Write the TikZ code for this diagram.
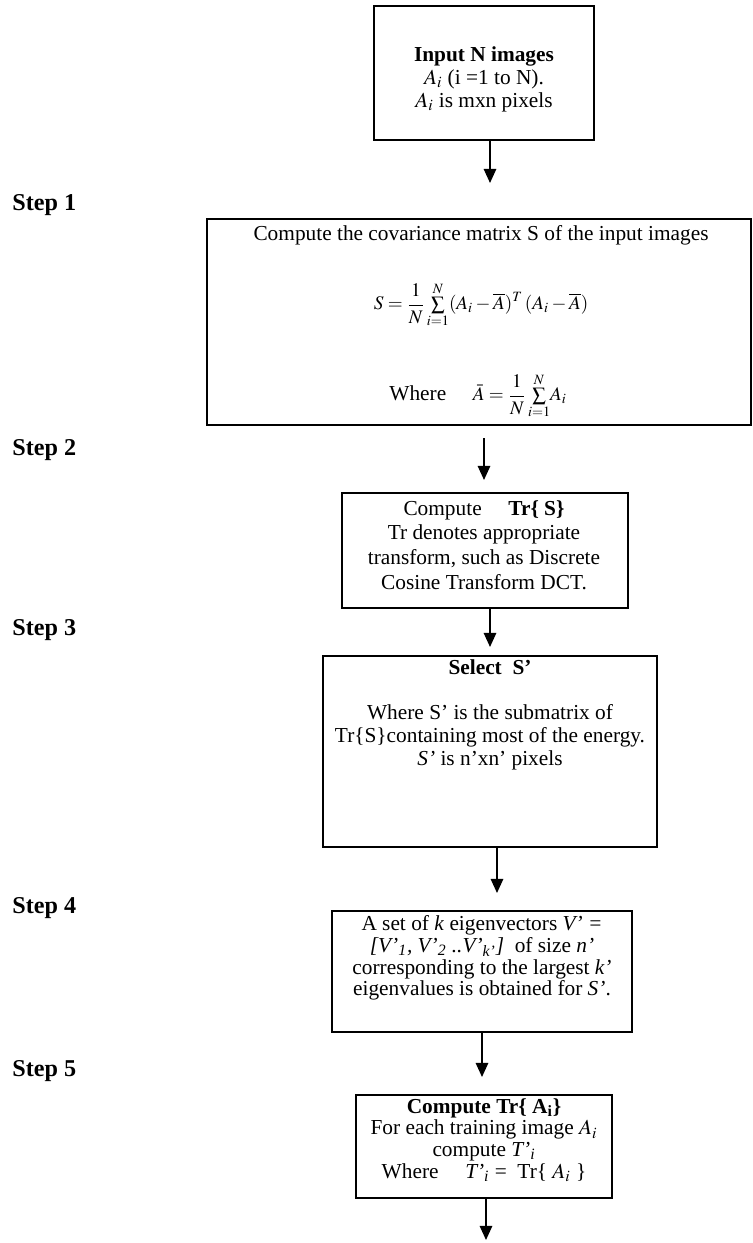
\documentclass[tikz,border=0pt]{standalone}
\usepackage{mathptmx}
\usepackage{fontspec}
\setmainfont{Liberation Serif}
\usetikzlibrary{arrows.meta}
\begin{document}
\begin{tikzpicture}[x=0.6pt,y=-0.6pt,
  box/.style={draw,line width=1.2pt,inner sep=0pt,outer sep=0pt},
  txt/.style={align=center,inner sep=0pt,font=\fontsize{12.8}{13.8}\selectfont},
  tight/.style={font=\fontsize{12.8}{13}\selectfont},
  loose/.style={font=\fontsize{12.8}{14.8}\selectfont},
  mathtxt/.style={font=\fontsize{11.5}{12}\selectfont},
  steplabel/.style={anchor=west,inner sep=0pt,font=\fontsize{14.5}{16}\selectfont\bfseries},
  arr/.style={line width=1pt,-{Triangle[length=8.5pt,width=7.5pt]}}]
\useasboundingbox (0,0) rectangle (752,1243);
% boxes
\node[box,minimum width=220*0.6pt,minimum height=134*0.6pt] (b1) at (484,73) {};
\node[box,minimum width=544*0.6pt,minimum height=206*0.6pt] (b2) at (479,322) {};
\node[box,minimum width=286*0.6pt,minimum height=115*0.6pt] (b3) at (485,550.5) {};
\node[box,minimum width=334*0.6pt,minimum height=191*0.6pt] (b4) at (490,751.5) {};
\node[box,minimum width=300*0.6pt,minimum height=121*0.6pt] (b5) at (482,971.5) {};
\node[box,minimum width=256*0.6pt,minimum height=103*0.6pt] (b6) at (484,1146.5) {};
% texts
\node[txt] (t1) at (484,79) {\textbf{Input N images}\\ $A_i$ (i =1 to N).\\ $A_i$ is mxn pixels};
\node[txt] (t2a) at (481,235) {Compute the covariance matrix S of the input images};
\node[txt,mathtxt] (t2b) at (481,305) {$\displaystyle S=\frac{1}{N}\,{\textstyle\sum\limits_{i=1}^{N}}(A_i-\overline{A})^T\,(A_i-\overline{A})$};
\node[txt] (t2c) at (478,396) {Where \quad {\fontsize{11.5}{12}\selectfont$\displaystyle\bar{A}=\frac{1}{N}\,{\textstyle\sum\limits_{i=1}^{N}}A_i$}};
\node[txt,loose] (t3) at (484,545) {Compute \quad \textbf{Tr\{ S\}}\\ Tr denotes appropriate\\ transform, such as Discrete\\ Cosine Transform DCT.};
\node[txt] (t4a) at (490,667) {\textbf{Select\ \ S’}};
\node[txt] (t4b) at (490,737) {Where S’ is the submatrix of\\ Tr\{S\}containing most of the energy.\\ \textit{S’} is n’xn’ pixels};
\node[txt,tight] (t5) at (482,958) {A set of \textit{k} eigenvectors \textit{V’ =}\\ \textit{[V’\textsubscript{1}, V’\textsubscript{2} ..V’\textsubscript{k’}]}\ \ of size \textit{n’}\\ corresponding to the largest \textit{k’}\\ eigenvalues is obtained for \textit{S’}.};
\node[txt,tight] (t6) at (484,1140) {\textbf{Compute Tr\{ A\textsubscript{i}\}}\\ For each training image $A_i$\\ compute \textit{T’\textsubscript{i}}\\ Where \quad \textit{T’\textsubscript{i}} =\ \ Tr\{ $A_i$ \}};
% step labels
\node[steplabel] (s1) at (12,205) {Step 1};
\node[steplabel] (s2) at (12,450) {Step 2};
\node[steplabel] (s3) at (12,630) {Step 3};
\node[steplabel] (s4) at (12,908) {Step 4};
\node[steplabel] (s5) at (12,1071) {Step 5};
% arrows
\coordinate (e1) at (490,183);
\coordinate (a2) at (484,438);
\coordinate (e2) at (484,480);
\coordinate (e3) at (490,647);
\coordinate (e4) at (497,893);
\coordinate (e5) at (482,1077);
\coordinate (e6) at (486,1240);
\draw[arr] (b1.south -| e1) -- (e1);
\draw[arr] (a2) -- (e2);
\draw[arr] (b3.south -| e3) -- (e3);
\draw[arr] (b4.south -| e4) -- (e4);
\draw[arr] (b5.south -| e5) -- (e5);
\draw[arr] (b6.south -| e6) -- (e6);
\end{tikzpicture}
\end{document}
